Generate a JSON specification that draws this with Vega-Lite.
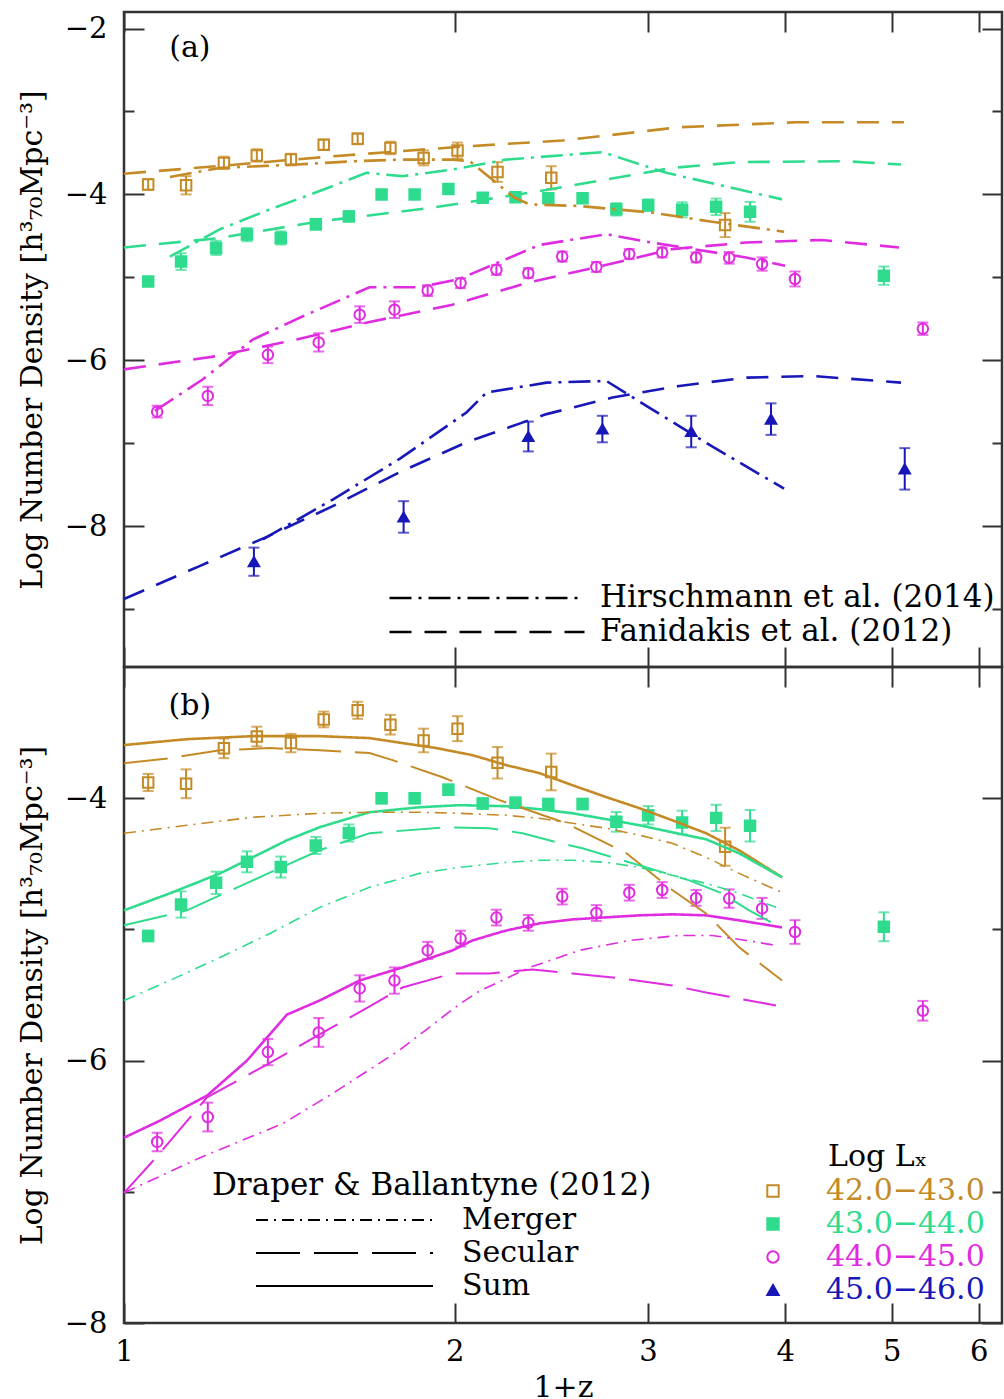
{
  "$schema": "https://vega.github.io/schema/vega-lite/v6.json",
  "autosize": {"type": "pad"},
  "padding": {"left": 16, "top": 9, "right": 0, "bottom": 0},
  "background": "white",
  "spacing": 0,
  "bounds": "flush",
  "config": {
    "font": "DejaVu Serif",
    "view": {"stroke": "#333333", "strokeWidth": 2.5},
    "axis": {"labelFont": "DejaVu Serif", "labelFontSize": 29, "labelColor": "black", "titleFont": "DejaVu Serif", "titleFontSize": 30, "titleFontWeight": "normal", "titleColor": "black", "tickColor": "#333333", "tickWidth": 2, "grid": false, "domain": false, "labelFlush": false},
    "legend": {"labelFont": "DejaVu Serif", "labelFontSize": 30, "titleFont": "DejaVu Serif", "titleFontSize": 30, "titleFontWeight": "normal", "labelColor": "black", "titleColor": "black", "labelLimit": 700, "titleLimit": 700}
  },
  "datasets": {
    "obs": [
      {"bin": "42.0−43.0", "x": 1.052, "y": -3.88, "err": 0.065},
      {"bin": "42.0−43.0", "x": 1.139, "y": -3.89, "err": 0.11},
      {"bin": "42.0−43.0", "x": 1.233, "y": -3.62, "err": 0.075},
      {"bin": "42.0−43.0", "x": 1.321, "y": -3.53, "err": 0.075},
      {"bin": "42.0−43.0", "x": 1.419, "y": -3.58, "err": 0.07},
      {"bin": "42.0−43.0", "x": 1.520, "y": -3.40, "err": 0.06},
      {"bin": "42.0−43.0", "x": 1.632, "y": -3.33, "err": 0.065},
      {"bin": "42.0−43.0", "x": 1.748, "y": -3.44, "err": 0.075},
      {"bin": "42.0−43.0", "x": 1.874, "y": -3.56, "err": 0.09},
      {"bin": "42.0−43.0", "x": 2.012, "y": -3.47, "err": 0.095},
      {"bin": "42.0−43.0", "x": 2.188, "y": -3.73, "err": 0.12},
      {"bin": "42.0−43.0", "x": 2.449, "y": -3.80, "err": 0.14},
      {"bin": "42.0−43.0", "x": 3.526, "y": -4.37, "err": 0.145},
      {"bin": "43.0−44.0", "x": 1.052, "y": -5.05, "err": 0.04},
      {"bin": "43.0−44.0", "x": 1.127, "y": -4.81, "err": 0.10},
      {"bin": "43.0−44.0", "x": 1.213, "y": -4.645, "err": 0.085},
      {"bin": "43.0−44.0", "x": 1.294, "y": -4.485, "err": 0.08},
      {"bin": "43.0−44.0", "x": 1.389, "y": -4.525, "err": 0.08},
      {"bin": "43.0−44.0", "x": 1.495, "y": -4.36, "err": 0.065},
      {"bin": "43.0−44.0", "x": 1.602, "y": -4.265, "err": 0.065},
      {"bin": "43.0−44.0", "x": 1.716, "y": -4.00, "err": 0.04},
      {"bin": "43.0−44.0", "x": 1.839, "y": -4.00, "err": 0.04},
      {"bin": "43.0−44.0", "x": 1.974, "y": -3.935, "err": 0.04},
      {"bin": "43.0−44.0", "x": 2.121, "y": -4.04, "err": 0.04},
      {"bin": "43.0−44.0", "x": 2.272, "y": -4.035, "err": 0.04},
      {"bin": "43.0−44.0", "x": 2.434, "y": -4.045, "err": 0.04},
      {"bin": "43.0−44.0", "x": 2.615, "y": -4.045, "err": 0.04},
      {"bin": "43.0−44.0", "x": 2.807, "y": -4.18, "err": 0.075},
      {"bin": "43.0−44.0", "x": 3.001, "y": -4.13, "err": 0.07},
      {"bin": "43.0−44.0", "x": 3.222, "y": -4.185, "err": 0.09},
      {"bin": "43.0−44.0", "x": 3.460, "y": -4.15, "err": 0.10},
      {"bin": "43.0−44.0", "x": 3.715, "y": -4.21, "err": 0.12},
      {"bin": "43.0−44.0", "x": 4.918, "y": -4.98, "err": 0.11},
      {"bin": "44.0−45.0", "x": 1.072, "y": -6.62, "err": 0.07},
      {"bin": "44.0−45.0", "x": 1.192, "y": -6.43, "err": 0.11},
      {"bin": "44.0−45.0", "x": 1.352, "y": -5.935, "err": 0.10},
      {"bin": "44.0−45.0", "x": 1.504, "y": -5.785, "err": 0.11},
      {"bin": "44.0−45.0", "x": 1.639, "y": -5.45, "err": 0.10},
      {"bin": "44.0−45.0", "x": 1.763, "y": -5.39, "err": 0.10},
      {"bin": "44.0−45.0", "x": 1.890, "y": -5.16, "err": 0.065},
      {"bin": "44.0−45.0", "x": 2.025, "y": -5.07, "err": 0.06},
      {"bin": "44.0−45.0", "x": 2.183, "y": -4.91, "err": 0.06},
      {"bin": "44.0−45.0", "x": 2.334, "y": -4.95, "err": 0.06},
      {"bin": "44.0−45.0", "x": 2.506, "y": -4.75, "err": 0.06},
      {"bin": "44.0−45.0", "x": 2.692, "y": -4.875, "err": 0.06},
      {"bin": "44.0−45.0", "x": 2.884, "y": -4.72, "err": 0.06},
      {"bin": "44.0−45.0", "x": 3.090, "y": -4.70, "err": 0.06},
      {"bin": "44.0−45.0", "x": 3.318, "y": -4.76, "err": 0.06},
      {"bin": "44.0−45.0", "x": 3.556, "y": -4.765, "err": 0.07},
      {"bin": "44.0−45.0", "x": 3.810, "y": -4.84, "err": 0.08},
      {"bin": "44.0−45.0", "x": 4.082, "y": -5.02, "err": 0.09},
      {"bin": "44.0−45.0", "x": 5.337, "y": -5.62, "err": 0.075},
      {"bin": "45.0−46.0", "x": 1.313, "y": -8.43, "err": 0.17},
      {"bin": "45.0−46.0", "x": 1.797, "y": -7.89, "err": 0.19},
      {"bin": "45.0−46.0", "x": 2.334, "y": -6.92, "err": 0.18},
      {"bin": "45.0−46.0", "x": 2.726, "y": -6.83, "err": 0.16},
      {"bin": "45.0−46.0", "x": 3.284, "y": -6.86, "err": 0.19},
      {"bin": "45.0−46.0", "x": 3.882, "y": -6.71, "err": 0.19},
      {"bin": "45.0−46.0", "x": 5.138, "y": -7.31, "err": 0.25}
    ],
    "modelA": [
      {"model": "Fanidakis et al. (2012)", "bin": "42.0−43.0", "x": 1.0, "y": -3.75},
      {"model": "Fanidakis et al. (2012)", "bin": "42.0−43.0", "x": 1.215, "y": -3.66},
      {"model": "Fanidakis et al. (2012)", "bin": "42.0−43.0", "x": 1.549, "y": -3.54},
      {"model": "Fanidakis et al. (2012)", "bin": "42.0−43.0", "x": 2.05, "y": -3.42},
      {"model": "Fanidakis et al. (2012)", "bin": "42.0−43.0", "x": 2.507, "y": -3.35},
      {"model": "Fanidakis et al. (2012)", "bin": "42.0−43.0", "x": 3.203, "y": -3.19},
      {"model": "Fanidakis et al. (2012)", "bin": "42.0−43.0", "x": 4.091, "y": -3.13},
      {"model": "Fanidakis et al. (2012)", "bin": "42.0−43.0", "x": 5.129, "y": -3.13},
      {"model": "Hirschmann et al. (2014)", "bin": "42.0−43.0", "x": 1.101, "y": -3.79},
      {"model": "Hirschmann et al. (2014)", "bin": "42.0−43.0", "x": 1.223, "y": -3.68},
      {"model": "Hirschmann et al. (2014)", "bin": "42.0−43.0", "x": 1.436, "y": -3.64},
      {"model": "Hirschmann et al. (2014)", "bin": "42.0−43.0", "x": 1.615, "y": -3.60},
      {"model": "Hirschmann et al. (2014)", "bin": "42.0−43.0", "x": 1.793, "y": -3.58},
      {"model": "Hirschmann et al. (2014)", "bin": "42.0−43.0", "x": 1.991, "y": -3.58},
      {"model": "Hirschmann et al. (2014)", "bin": "42.0−43.0", "x": 2.065, "y": -3.60},
      {"model": "Hirschmann et al. (2014)", "bin": "42.0−43.0", "x": 2.267, "y": -4.04},
      {"model": "Hirschmann et al. (2014)", "bin": "42.0−43.0", "x": 2.34, "y": -4.12},
      {"model": "Hirschmann et al. (2014)", "bin": "42.0−43.0", "x": 2.598, "y": -4.14},
      {"model": "Hirschmann et al. (2014)", "bin": "42.0−43.0", "x": 3.027, "y": -4.22},
      {"model": "Hirschmann et al. (2014)", "bin": "42.0−43.0", "x": 3.431, "y": -4.33},
      {"model": "Hirschmann et al. (2014)", "bin": "42.0−43.0", "x": 3.99, "y": -4.45},
      {"model": "Fanidakis et al. (2012)", "bin": "43.0−44.0", "x": 1.0, "y": -4.64},
      {"model": "Fanidakis et al. (2012)", "bin": "43.0−44.0", "x": 1.215, "y": -4.53},
      {"model": "Fanidakis et al. (2012)", "bin": "43.0−44.0", "x": 1.498, "y": -4.33},
      {"model": "Fanidakis et al. (2012)", "bin": "43.0−44.0", "x": 1.909, "y": -4.16},
      {"model": "Fanidakis et al. (2012)", "bin": "43.0−44.0", "x": 2.389, "y": -3.96},
      {"model": "Fanidakis et al. (2012)", "bin": "43.0−44.0", "x": 2.749, "y": -3.82},
      {"model": "Fanidakis et al. (2012)", "bin": "43.0−44.0", "x": 3.156, "y": -3.68},
      {"model": "Fanidakis et al. (2012)", "bin": "43.0−44.0", "x": 3.631, "y": -3.61},
      {"model": "Fanidakis et al. (2012)", "bin": "43.0−44.0", "x": 4.543, "y": -3.60},
      {"model": "Fanidakis et al. (2012)", "bin": "43.0−44.0", "x": 5.098, "y": -3.64},
      {"model": "Hirschmann et al. (2014)", "bin": "43.0−44.0", "x": 1.101, "y": -4.75},
      {"model": "Hirschmann et al. (2014)", "bin": "43.0−44.0", "x": 1.223, "y": -4.42},
      {"model": "Hirschmann et al. (2014)", "bin": "43.0−44.0", "x": 1.358, "y": -4.18},
      {"model": "Hirschmann et al. (2014)", "bin": "43.0−44.0", "x": 1.507, "y": -3.96},
      {"model": "Hirschmann et al. (2014)", "bin": "43.0−44.0", "x": 1.663, "y": -3.74},
      {"model": "Hirschmann et al. (2014)", "bin": "43.0−44.0", "x": 1.793, "y": -3.78},
      {"model": "Hirschmann et al. (2014)", "bin": "43.0−44.0", "x": 1.991, "y": -3.70},
      {"model": "Hirschmann et al. (2014)", "bin": "43.0−44.0", "x": 2.229, "y": -3.58},
      {"model": "Hirschmann et al. (2014)", "bin": "43.0−44.0", "x": 2.726, "y": -3.49},
      {"model": "Hirschmann et al. (2014)", "bin": "43.0−44.0", "x": 3.117, "y": -3.74},
      {"model": "Hirschmann et al. (2014)", "bin": "43.0−44.0", "x": 3.973, "y": -4.06},
      {"model": "Fanidakis et al. (2012)", "bin": "44.0−45.0", "x": 1.0, "y": -6.11},
      {"model": "Fanidakis et al. (2012)", "bin": "44.0−45.0", "x": 1.215, "y": -5.95},
      {"model": "Fanidakis et al. (2012)", "bin": "44.0−45.0", "x": 1.436, "y": -5.75},
      {"model": "Fanidakis et al. (2012)", "bin": "44.0−45.0", "x": 1.673, "y": -5.54},
      {"model": "Fanidakis et al. (2012)", "bin": "44.0−45.0", "x": 1.991, "y": -5.33},
      {"model": "Fanidakis et al. (2012)", "bin": "44.0−45.0", "x": 2.34, "y": -5.06},
      {"model": "Fanidakis et al. (2012)", "bin": "44.0−45.0", "x": 2.709, "y": -4.87},
      {"model": "Fanidakis et al. (2012)", "bin": "44.0−45.0", "x": 3.156, "y": -4.66},
      {"model": "Fanidakis et al. (2012)", "bin": "44.0−45.0", "x": 3.684, "y": -4.58},
      {"model": "Fanidakis et al. (2012)", "bin": "44.0−45.0", "x": 4.32, "y": -4.55},
      {"model": "Fanidakis et al. (2012)", "bin": "44.0−45.0", "x": 5.077, "y": -4.64},
      {"model": "Hirschmann et al. (2014)", "bin": "44.0−45.0", "x": 1.067, "y": -6.61},
      {"model": "Hirschmann et al. (2014)", "bin": "44.0−45.0", "x": 1.18, "y": -6.23},
      {"model": "Hirschmann et al. (2014)", "bin": "44.0−45.0", "x": 1.31, "y": -5.75},
      {"model": "Hirschmann et al. (2014)", "bin": "44.0−45.0", "x": 1.455, "y": -5.47},
      {"model": "Hirschmann et al. (2014)", "bin": "44.0−45.0", "x": 1.673, "y": -5.12},
      {"model": "Hirschmann et al. (2014)", "bin": "44.0−45.0", "x": 1.858, "y": -5.12},
      {"model": "Hirschmann et al. (2014)", "bin": "44.0−45.0", "x": 2.02, "y": -5.02},
      {"model": "Hirschmann et al. (2014)", "bin": "44.0−45.0", "x": 2.389, "y": -4.61},
      {"model": "Hirschmann et al. (2014)", "bin": "44.0−45.0", "x": 2.749, "y": -4.48},
      {"model": "Hirschmann et al. (2014)", "bin": "44.0−45.0", "x": 2.989, "y": -4.57},
      {"model": "Hirschmann et al. (2014)", "bin": "44.0−45.0", "x": 3.684, "y": -4.76},
      {"model": "Hirschmann et al. (2014)", "bin": "44.0−45.0", "x": 3.998, "y": -4.86},
      {"model": "Fanidakis et al. (2012)", "bin": "45.0−46.0", "x": 1.0, "y": -8.88},
      {"model": "Fanidakis et al. (2012)", "bin": "45.0−46.0", "x": 1.173, "y": -8.48},
      {"model": "Fanidakis et al. (2012)", "bin": "45.0−46.0", "x": 1.349, "y": -8.13},
      {"model": "Fanidakis et al. (2012)", "bin": "45.0−46.0", "x": 1.549, "y": -7.76},
      {"model": "Fanidakis et al. (2012)", "bin": "45.0−46.0", "x": 1.782, "y": -7.35},
      {"model": "Fanidakis et al. (2012)", "bin": "45.0−46.0", "x": 2.05, "y": -6.99},
      {"model": "Fanidakis et al. (2012)", "bin": "45.0−46.0", "x": 2.425, "y": -6.65},
      {"model": "Fanidakis et al. (2012)", "bin": "45.0−46.0", "x": 2.784, "y": -6.45},
      {"model": "Fanidakis et al. (2012)", "bin": "45.0−46.0", "x": 3.203, "y": -6.31},
      {"model": "Fanidakis et al. (2012)", "bin": "45.0−46.0", "x": 3.684, "y": -6.21},
      {"model": "Fanidakis et al. (2012)", "bin": "45.0−46.0", "x": 4.231, "y": -6.19},
      {"model": "Fanidakis et al. (2012)", "bin": "45.0−46.0", "x": 5.098, "y": -6.27},
      {"model": "Hirschmann et al. (2014)", "bin": "45.0−46.0", "x": 1.338, "y": -8.16},
      {"model": "Hirschmann et al. (2014)", "bin": "45.0−46.0", "x": 1.549, "y": -7.68},
      {"model": "Hirschmann et al. (2014)", "bin": "45.0−46.0", "x": 1.782, "y": -7.19},
      {"model": "Hirschmann et al. (2014)", "bin": "45.0−46.0", "x": 2.05, "y": -6.63},
      {"model": "Hirschmann et al. (2014)", "bin": "45.0−46.0", "x": 2.138, "y": -6.39},
      {"model": "Hirschmann et al. (2014)", "bin": "45.0−46.0", "x": 2.425, "y": -6.27},
      {"model": "Hirschmann et al. (2014)", "bin": "45.0−46.0", "x": 2.749, "y": -6.25},
      {"model": "Hirschmann et al. (2014)", "bin": "45.0−46.0", "x": 2.989, "y": -6.55},
      {"model": "Hirschmann et al. (2014)", "bin": "45.0−46.0", "x": 3.431, "y": -7.04},
      {"model": "Hirschmann et al. (2014)", "bin": "45.0−46.0", "x": 3.99, "y": -7.55}
    ],
    "modelB": [
      {"model": "Sum", "bin": "42.0−43.0", "x": 1.0, "y": -3.595},
      {"model": "Sum", "bin": "42.0−43.0", "x": 1.141, "y": -3.55},
      {"model": "Sum", "bin": "42.0−43.0", "x": 1.31, "y": -3.527},
      {"model": "Sum", "bin": "42.0−43.0", "x": 1.507, "y": -3.527},
      {"model": "Sum", "bin": "42.0−43.0", "x": 1.673, "y": -3.542},
      {"model": "Sum", "bin": "42.0−43.0", "x": 1.793, "y": -3.58},
      {"model": "Sum", "bin": "42.0−43.0", "x": 1.925, "y": -3.618},
      {"model": "Sum", "bin": "42.0−43.0", "x": 2.076, "y": -3.672},
      {"model": "Sum", "bin": "42.0−43.0", "x": 2.229, "y": -3.748},
      {"model": "Sum", "bin": "42.0−43.0", "x": 2.389, "y": -3.809},
      {"model": "Sum", "bin": "42.0−43.0", "x": 2.56, "y": -3.901},
      {"model": "Sum", "bin": "42.0−43.0", "x": 2.749, "y": -3.992},
      {"model": "Sum", "bin": "42.0−43.0", "x": 2.946, "y": -4.076},
      {"model": "Sum", "bin": "42.0−43.0", "x": 3.156, "y": -4.168},
      {"model": "Sum", "bin": "42.0−43.0", "x": 3.388, "y": -4.267},
      {"model": "Sum", "bin": "42.0−43.0", "x": 3.631, "y": -4.397},
      {"model": "Sum", "bin": "42.0−43.0", "x": 3.973, "y": -4.603},
      {"model": "Secular", "bin": "42.0−43.0", "x": 1.0, "y": -3.733},
      {"model": "Secular", "bin": "42.0−43.0", "x": 1.101, "y": -3.695},
      {"model": "Secular", "bin": "42.0−43.0", "x": 1.223, "y": -3.634},
      {"model": "Secular", "bin": "42.0−43.0", "x": 1.358, "y": -3.618},
      {"model": "Secular", "bin": "42.0−43.0", "x": 1.507, "y": -3.634},
      {"model": "Secular", "bin": "42.0−43.0", "x": 1.673, "y": -3.656},
      {"model": "Secular", "bin": "42.0−43.0", "x": 1.756, "y": -3.71},
      {"model": "Secular", "bin": "42.0−43.0", "x": 1.95, "y": -3.84},
      {"model": "Secular", "bin": "42.0−43.0", "x": 2.197, "y": -4.015},
      {"model": "Secular", "bin": "42.0−43.0", "x": 2.527, "y": -4.191},
      {"model": "Secular", "bin": "42.0−43.0", "x": 2.867, "y": -4.42},
      {"model": "Secular", "bin": "42.0−43.0", "x": 3.156, "y": -4.70},
      {"model": "Secular", "bin": "42.0−43.0", "x": 3.388, "y": -4.878},
      {"model": "Secular", "bin": "42.0−43.0", "x": 3.631, "y": -5.137},
      {"model": "Secular", "bin": "42.0−43.0", "x": 3.973, "y": -5.389},
      {"model": "Merger", "bin": "42.0−43.0", "x": 1.0, "y": -4.267},
      {"model": "Merger", "bin": "42.0−43.0", "x": 1.141, "y": -4.206},
      {"model": "Merger", "bin": "42.0−43.0", "x": 1.31, "y": -4.145},
      {"model": "Merger", "bin": "42.0−43.0", "x": 1.507, "y": -4.115},
      {"model": "Merger", "bin": "42.0−43.0", "x": 1.673, "y": -4.107},
      {"model": "Merger", "bin": "42.0−43.0", "x": 1.858, "y": -4.107},
      {"model": "Merger", "bin": "42.0−43.0", "x": 2.02, "y": -4.115},
      {"model": "Merger", "bin": "42.0−43.0", "x": 2.229, "y": -4.13},
      {"model": "Merger", "bin": "42.0−43.0", "x": 2.389, "y": -4.153},
      {"model": "Merger", "bin": "42.0−43.0", "x": 2.56, "y": -4.191},
      {"model": "Merger", "bin": "42.0−43.0", "x": 2.749, "y": -4.229},
      {"model": "Merger", "bin": "42.0−43.0", "x": 2.946, "y": -4.282},
      {"model": "Merger", "bin": "42.0−43.0", "x": 3.156, "y": -4.344},
      {"model": "Merger", "bin": "42.0−43.0", "x": 3.388, "y": -4.45},
      {"model": "Merger", "bin": "42.0−43.0", "x": 3.631, "y": -4.573},
      {"model": "Merger", "bin": "42.0−43.0", "x": 3.973, "y": -4.718},
      {"model": "Sum", "bin": "43.0−44.0", "x": 1.0, "y": -4.855},
      {"model": "Sum", "bin": "43.0−44.0", "x": 1.101, "y": -4.725},
      {"model": "Sum", "bin": "43.0−44.0", "x": 1.223, "y": -4.573},
      {"model": "Sum", "bin": "43.0−44.0", "x": 1.31, "y": -4.45},
      {"model": "Sum", "bin": "43.0−44.0", "x": 1.407, "y": -4.321},
      {"model": "Sum", "bin": "43.0−44.0", "x": 1.507, "y": -4.221},
      {"model": "Sum", "bin": "43.0−44.0", "x": 1.673, "y": -4.107},
      {"model": "Sum", "bin": "43.0−44.0", "x": 1.858, "y": -4.069},
      {"model": "Sum", "bin": "43.0−44.0", "x": 2.02, "y": -4.053},
      {"model": "Sum", "bin": "43.0−44.0", "x": 2.229, "y": -4.061},
      {"model": "Sum", "bin": "43.0−44.0", "x": 2.389, "y": -4.084},
      {"model": "Sum", "bin": "43.0−44.0", "x": 2.56, "y": -4.115},
      {"model": "Sum", "bin": "43.0−44.0", "x": 2.749, "y": -4.16},
      {"model": "Sum", "bin": "43.0−44.0", "x": 2.946, "y": -4.206},
      {"model": "Sum", "bin": "43.0−44.0", "x": 3.156, "y": -4.26},
      {"model": "Sum", "bin": "43.0−44.0", "x": 3.388, "y": -4.313},
      {"model": "Sum", "bin": "43.0−44.0", "x": 3.631, "y": -4.42},
      {"model": "Sum", "bin": "43.0−44.0", "x": 3.973, "y": -4.603},
      {"model": "Secular", "bin": "43.0−44.0", "x": 1.0, "y": -4.969},
      {"model": "Secular", "bin": "43.0−44.0", "x": 1.141, "y": -4.855},
      {"model": "Secular", "bin": "43.0−44.0", "x": 1.31, "y": -4.626},
      {"model": "Secular", "bin": "43.0−44.0", "x": 1.507, "y": -4.397},
      {"model": "Secular", "bin": "43.0−44.0", "x": 1.673, "y": -4.267},
      {"model": "Secular", "bin": "43.0−44.0", "x": 1.966, "y": -4.221},
      {"model": "Secular", "bin": "43.0−44.0", "x": 2.151, "y": -4.229},
      {"model": "Secular", "bin": "43.0−44.0", "x": 2.306, "y": -4.267},
      {"model": "Secular", "bin": "43.0−44.0", "x": 2.476, "y": -4.336},
      {"model": "Secular", "bin": "43.0−44.0", "x": 2.614, "y": -4.382},
      {"model": "Secular", "bin": "43.0−44.0", "x": 2.843, "y": -4.473},
      {"model": "Secular", "bin": "43.0−44.0", "x": 3.052, "y": -4.55},
      {"model": "Secular", "bin": "43.0−44.0", "x": 3.271, "y": -4.626},
      {"model": "Secular", "bin": "43.0−44.0", "x": 3.504, "y": -4.725},
      {"model": "Secular", "bin": "43.0−44.0", "x": 3.708, "y": -4.855},
      {"model": "Secular", "bin": "43.0−44.0", "x": 3.973, "y": -4.992},
      {"model": "Merger", "bin": "43.0−44.0", "x": 1.0, "y": -5.542},
      {"model": "Merger", "bin": "43.0−44.0", "x": 1.101, "y": -5.389},
      {"model": "Merger", "bin": "43.0−44.0", "x": 1.223, "y": -5.214},
      {"model": "Merger", "bin": "43.0−44.0", "x": 1.358, "y": -5.031},
      {"model": "Merger", "bin": "43.0−44.0", "x": 1.507, "y": -4.832},
      {"model": "Merger", "bin": "43.0−44.0", "x": 1.673, "y": -4.679},
      {"model": "Merger", "bin": "43.0−44.0", "x": 1.858, "y": -4.573},
      {"model": "Merger", "bin": "43.0−44.0", "x": 2.02, "y": -4.527},
      {"model": "Merger", "bin": "43.0−44.0", "x": 2.229, "y": -4.489},
      {"model": "Merger", "bin": "43.0−44.0", "x": 2.389, "y": -4.473},
      {"model": "Merger", "bin": "43.0−44.0", "x": 2.56, "y": -4.473},
      {"model": "Merger", "bin": "43.0−44.0", "x": 2.749, "y": -4.489},
      {"model": "Merger", "bin": "43.0−44.0", "x": 2.946, "y": -4.527},
      {"model": "Merger", "bin": "43.0−44.0", "x": 3.156, "y": -4.588},
      {"model": "Merger", "bin": "43.0−44.0", "x": 3.388, "y": -4.649},
      {"model": "Merger", "bin": "43.0−44.0", "x": 3.631, "y": -4.725},
      {"model": "Merger", "bin": "43.0−44.0", "x": 3.923, "y": -4.832},
      {"model": "Sum", "bin": "44.0−45.0", "x": 1.0, "y": -6.588},
      {"model": "Sum", "bin": "44.0−45.0", "x": 1.078, "y": -6.458},
      {"model": "Sum", "bin": "44.0−45.0", "x": 1.19, "y": -6.267},
      {"model": "Sum", "bin": "44.0−45.0", "x": 1.294, "y": -6.0},
      {"model": "Sum", "bin": "44.0−45.0", "x": 1.407, "y": -5.65},
      {"model": "Sum", "bin": "44.0−45.0", "x": 1.507, "y": -5.542},
      {"model": "Sum", "bin": "44.0−45.0", "x": 1.639, "y": -5.389},
      {"model": "Sum", "bin": "44.0−45.0", "x": 1.793, "y": -5.29},
      {"model": "Sum", "bin": "44.0−45.0", "x": 1.991, "y": -5.16},
      {"model": "Sum", "bin": "44.0−45.0", "x": 2.076, "y": -5.084},
      {"model": "Sum", "bin": "44.0−45.0", "x": 2.229, "y": -5.008},
      {"model": "Sum", "bin": "44.0−45.0", "x": 2.389, "y": -4.954},
      {"model": "Sum", "bin": "44.0−45.0", "x": 2.56, "y": -4.924},
      {"model": "Sum", "bin": "44.0−45.0", "x": 2.749, "y": -4.908},
      {"model": "Sum", "bin": "44.0−45.0", "x": 2.946, "y": -4.893},
      {"model": "Sum", "bin": "44.0−45.0", "x": 3.156, "y": -4.885},
      {"model": "Sum", "bin": "44.0−45.0", "x": 3.388, "y": -4.893},
      {"model": "Sum", "bin": "44.0−45.0", "x": 3.631, "y": -4.931},
      {"model": "Sum", "bin": "44.0−45.0", "x": 3.973, "y": -4.985},
      {"model": "Secular", "bin": "44.0−45.0", "x": 1.0, "y": -7.008},
      {"model": "Secular", "bin": "44.0−45.0", "x": 1.072, "y": -6.73},
      {"model": "Secular", "bin": "44.0−45.0", "x": 1.19, "y": -6.28},
      {"model": "Secular", "bin": "44.0−45.0", "x": 1.349, "y": -6.03},
      {"model": "Secular", "bin": "44.0−45.0", "x": 1.507, "y": -5.80},
      {"model": "Secular", "bin": "44.0−45.0", "x": 1.663, "y": -5.60},
      {"model": "Secular", "bin": "44.0−45.0", "x": 1.793, "y": -5.443},
      {"model": "Secular", "bin": "44.0−45.0", "x": 1.991, "y": -5.336},
      {"model": "Secular", "bin": "44.0−45.0", "x": 2.151, "y": -5.336},
      {"model": "Secular", "bin": "44.0−45.0", "x": 2.354, "y": -5.305},
      {"model": "Secular", "bin": "44.0−45.0", "x": 2.56, "y": -5.336},
      {"model": "Secular", "bin": "44.0−45.0", "x": 2.843, "y": -5.374},
      {"model": "Secular", "bin": "44.0−45.0", "x": 3.156, "y": -5.427},
      {"model": "Secular", "bin": "44.0−45.0", "x": 3.388, "y": -5.481},
      {"model": "Secular", "bin": "44.0−45.0", "x": 3.923, "y": -5.58},
      {"model": "Merger", "bin": "44.0−45.0", "x": 1.0, "y": -7.008},
      {"model": "Merger", "bin": "44.0−45.0", "x": 1.173, "y": -6.74},
      {"model": "Merger", "bin": "44.0−45.0", "x": 1.395, "y": -6.48},
      {"model": "Merger", "bin": "44.0−45.0", "x": 1.549, "y": -6.25},
      {"model": "Merger", "bin": "44.0−45.0", "x": 1.782, "y": -5.92},
      {"model": "Merger", "bin": "44.0−45.0", "x": 2.02, "y": -5.57},
      {"model": "Merger", "bin": "44.0−45.0", "x": 2.107, "y": -5.47},
      {"model": "Merger", "bin": "44.0−45.0", "x": 2.34, "y": -5.29},
      {"model": "Merger", "bin": "44.0−45.0", "x": 2.598, "y": -5.16},
      {"model": "Merger", "bin": "44.0−45.0", "x": 2.884, "y": -5.084},
      {"model": "Merger", "bin": "44.0−45.0", "x": 3.203, "y": -5.046},
      {"model": "Merger", "bin": "44.0−45.0", "x": 3.431, "y": -5.046},
      {"model": "Merger", "bin": "44.0−45.0", "x": 3.684, "y": -5.084},
      {"model": "Merger", "bin": "44.0−45.0", "x": 3.923, "y": -5.122}
    ]
  },
  "resolve": {
    "scale": {"y": "independent", "strokeDash": "independent"},
    "legend": {"shape": "independent", "stroke": "independent", "fill": "independent"}
  },
  "vconcat": [
    {
      "width": 878,
      "height": 655,
      "resolve": {"axis": {"x": "independent", "y": "independent"}},
      "layer": [
        {
          "data": {"name": "obs"},
          "mark": {"type": "errorbar", "ticks": {"size": 11}, "thickness": 2},
          "encoding": {
            "x": {"field": "x", "type": "quantitative", "scale": {"type": "log", "domain": [1, 6.3], "nice": false}, "axis": {"orient": "bottom", "values": [1, 2, 3, 4, 5, 6], "labels": false, "tickSize": -20, "title": null}},
            "y": {"field": "y", "type": "quantitative", "scale": {"domain": [-9.7, -1.8], "nice": false, "zero": false}, "axis": {"orient": "left", "values": [-2, -4, -6, -8], "tickSize": -20, "labelPadding": 37, "title": "Log Number Density [h³₇₀Mpc⁻³]", "titlePadding": 17}},
            "yError": {"field": "err"},
            "color": {"field": "bin", "type": "nominal", "scale": {"domain": ["42.0−43.0", "43.0−44.0", "44.0−45.0", "45.0−46.0"], "range": ["#c48a26", "#2fdc8e", "#e02ce0", "#1818b8"]}, "legend": null}
          }
        },
        {
          "data": {"name": "obs"},
          "mark": {"type": "point", "size": 110, "strokeWidth": 2, "opacity": 1},
          "encoding": {
            "x": {"field": "x", "type": "quantitative", "scale": {"type": "log", "domain": [1, 6.3], "nice": false}, "axis": {"orient": "top", "values": [1, 2, 3, 4, 5, 6], "labels": false, "tickSize": -20, "title": null}},
            "y": {"field": "y", "type": "quantitative", "scale": {"domain": [-9.7, -1.8], "nice": false, "zero": false}, "axis": {"orient": "right", "values": [-2, -4, -6, -8], "labels": false, "tickSize": -20, "title": null}},
            "shape": {"field": "bin", "type": "nominal", "scale": {"domain": ["42.0−43.0", "43.0−44.0", "44.0−45.0", "45.0−46.0"], "range": ["square", "square", "circle", "triangle-up"]}, "legend": null},
            "stroke": {"field": "bin", "type": "nominal", "scale": {"domain": ["42.0−43.0", "43.0−44.0", "44.0−45.0", "45.0−46.0"], "range": ["#c48a26", "#2fdc8e", "#e02ce0", "#1818b8"]}, "legend": null},
            "fill": {"field": "bin", "type": "nominal", "scale": {"domain": ["42.0−43.0", "43.0−44.0", "44.0−45.0", "45.0−46.0"], "range": ["transparent", "#2fdc8e", "transparent", "#1818b8"]}, "legend": null}
          }
        },
        {
          "data": {"name": "modelA"},
          "transform": [{"filter": "datum.model === 'Fanidakis et al. (2012)'"}],
          "mark": {"type": "line", "strokeWidth": 2.6},
          "encoding": {
            "x": {"field": "x", "type": "quantitative", "scale": {"type": "log", "domain": [1, 6.3], "nice": false}, "axis": null},
            "y": {"field": "y", "type": "quantitative", "scale": {"domain": [-9.7, -1.8], "nice": false, "zero": false}, "axis": {"orient": "left", "values": [-3, -5, -7, -9], "labels": false, "tickSize": -10, "title": null}},
            "color": {"field": "bin", "type": "nominal", "scale": {"domain": ["42.0−43.0", "43.0−44.0", "44.0−45.0", "45.0−46.0"], "range": ["#c48a26", "#2fdc8e", "#e02ce0", "#1818b8"]}, "legend": null},
            "strokeDash": {"field": "model", "type": "nominal", "scale": {"domain": ["Hirschmann et al. (2014)", "Fanidakis et al. (2012)"], "range": [[22, 7, 3, 7], [22, 13]]}, "legend": {"orient": "none", "legendX": 264, "legendY": 571, "title": null, "symbolType": "stroke", "symbolSize": 38025, "symbolStrokeColor": "black", "symbolStrokeWidth": 2.5, "clipHeight": 30, "rowPadding": 3, "labelOffset": 14, "labelFontSize": 31}}
          }
        },
        {
          "data": {"name": "modelA"},
          "transform": [{"filter": "datum.model === 'Hirschmann et al. (2014)'"}],
          "mark": {"type": "line", "strokeWidth": 2.6},
          "encoding": {
            "x": {"field": "x", "type": "quantitative", "scale": {"type": "log", "domain": [1, 6.3], "nice": false}, "axis": null},
            "y": {"field": "y", "type": "quantitative", "scale": {"domain": [-9.7, -1.8], "nice": false, "zero": false}, "axis": {"orient": "right", "values": [-3, -5, -7, -9], "labels": false, "tickSize": -10, "title": null}},
            "color": {"field": "bin", "type": "nominal", "scale": {"domain": ["42.0−43.0", "43.0−44.0", "44.0−45.0", "45.0−46.0"], "range": ["#c48a26", "#2fdc8e", "#e02ce0", "#1818b8"]}, "legend": null},
            "strokeDash": {"field": "model", "type": "nominal", "scale": {"domain": ["Hirschmann et al. (2014)", "Fanidakis et al. (2012)"], "range": [[22, 7, 3, 7], [22, 13]]}}
          }
        },
        {
          "data": {"values": [{}]},
          "mark": {"type": "text", "text": "(a)", "fontSize": 30, "font": "DejaVu Serif", "color": "black"},
          "encoding": {
            "x": {"datum": 1.148, "type": "quantitative", "scale": {"type": "log", "domain": [1, 6.3], "nice": false}, "axis": null},
            "y": {"datum": -2.23, "type": "quantitative", "scale": {"domain": [-9.7, -1.8], "nice": false, "zero": false}, "axis": null}
          }
        }
      ]
    },
    {
      "width": 878,
      "height": 656,
      "resolve": {"axis": {"x": "independent", "y": "independent"}},
      "layer": [
        {
          "data": {"name": "obs"},
          "transform": [{"filter": "datum.bin !== '45.0−46.0'"}],
          "mark": {"type": "errorbar", "ticks": {"size": 11}, "thickness": 2},
          "encoding": {
            "x": {"field": "x", "type": "quantitative", "scale": {"type": "log", "domain": [1, 6.3], "nice": false}, "axis": {"orient": "bottom", "values": [1, 2, 3, 4, 5, 6], "tickSize": -20, "labelPadding": 34, "title": "1+z", "titlePadding": 6}},
            "y": {"field": "y", "type": "quantitative", "scale": {"domain": [-8, -3], "nice": false, "zero": false}, "axis": {"orient": "left", "values": [-4, -6, -8], "tickSize": -20, "labelPadding": 37, "title": "Log Number Density [h³₇₀Mpc⁻³]", "titlePadding": 17}},
            "yError": {"field": "err"},
            "color": {"field": "bin", "type": "nominal", "scale": {"domain": ["42.0−43.0", "43.0−44.0", "44.0−45.0", "45.0−46.0"], "range": ["#c48a26", "#2fdc8e", "#e02ce0", "#1818b8"]}, "legend": null}
          }
        },
        {
          "data": {"name": "obs"},
          "transform": [{"filter": "datum.bin !== '45.0−46.0'"}],
          "mark": {"type": "point", "size": 110, "strokeWidth": 2, "opacity": 1},
          "encoding": {
            "x": {"field": "x", "type": "quantitative", "scale": {"type": "log", "domain": [1, 6.3], "nice": false}, "axis": {"orient": "top", "values": [1, 2, 3, 4, 5, 6], "labels": false, "tickSize": -20, "title": null}},
            "y": {"field": "y", "type": "quantitative", "scale": {"domain": [-8, -3], "nice": false, "zero": false}, "axis": {"orient": "right", "values": [-4, -6, -8], "labels": false, "tickSize": -20, "title": null}},
            "shape": {"field": "bin", "type": "nominal", "title": "Log Lₓ", "scale": {"domain": ["42.0−43.0", "43.0−44.0", "44.0−45.0", "45.0−46.0"], "range": ["square", "square", "circle", "triangle-up"]}, "legend": {"orient": "none", "legendX": 704, "legendY": 475, "symbolOffset": -70, "labelOffset": 38, "symbolSize": 130, "symbolStrokeWidth": 2, "rowPadding": 3, "titlePadding": 4, "labelColor": {"expr": "datum.value === '42.0−43.0' ? '#c48a26' : datum.value === '43.0−44.0' ? '#2fdc8e' : datum.value === '44.0−45.0' ? '#e02ce0' : '#1818b8'"}}},
            "stroke": {"field": "bin", "type": "nominal", "title": "Log Lₓ", "scale": {"domain": ["42.0−43.0", "43.0−44.0", "44.0−45.0", "45.0−46.0"], "range": ["#c48a26", "#2fdc8e", "#e02ce0", "#1818b8"]}},
            "fill": {"field": "bin", "type": "nominal", "title": "Log Lₓ", "scale": {"domain": ["42.0−43.0", "43.0−44.0", "44.0−45.0", "45.0−46.0"], "range": ["transparent", "#2fdc8e", "transparent", "#1818b8"]}}
          }
        },
        {
          "data": {"name": "modelB"},
          "transform": [{"filter": "datum.model === 'Sum'"}],
          "mark": {"type": "line", "strokeWidth": 2.6},
          "encoding": {
            "x": {"field": "x", "type": "quantitative", "scale": {"type": "log", "domain": [1, 6.3], "nice": false}, "axis": null},
            "y": {"field": "y", "type": "quantitative", "scale": {"domain": [-8, -3], "nice": false, "zero": false}, "axis": {"orient": "left", "values": [-5, -7], "labels": false, "tickSize": -10, "title": null}},
            "color": {"field": "bin", "type": "nominal", "scale": {"domain": ["42.0−43.0", "43.0−44.0", "44.0−45.0", "45.0−46.0"], "range": ["#c48a26", "#2fdc8e", "#e02ce0", "#1818b8"]}, "legend": null},
            "strokeDash": {"field": "model", "type": "nominal", "scale": {"domain": ["Merger", "Secular", "Sum"], "range": [[12, 6, 2, 6], [44, 14], [1, 0]]}, "legend": {"orient": "none", "legendX": 88, "legendY": 504, "title": "Draper & Ballantyne (2012)", "titleFontSize": 31, "symbolType": "stroke", "symbolSize": 31329, "symbolStrokeColor": "black", "symbolStrokeWidth": 2, "symbolOffset": 43, "clipHeight": 28, "rowPadding": 3, "labelOffset": 28, "titlePadding": 4}}
          }
        },
        {
          "data": {"name": "modelB"},
          "transform": [{"filter": "datum.model === 'Secular'"}],
          "mark": {"type": "line", "strokeWidth": 2},
          "encoding": {
            "x": {"field": "x", "type": "quantitative", "scale": {"type": "log", "domain": [1, 6.3], "nice": false}, "axis": null},
            "y": {"field": "y", "type": "quantitative", "scale": {"domain": [-8, -3], "nice": false, "zero": false}, "axis": {"orient": "right", "values": [-5, -7], "labels": false, "tickSize": -10, "title": null}},
            "color": {"field": "bin", "type": "nominal", "scale": {"domain": ["42.0−43.0", "43.0−44.0", "44.0−45.0", "45.0−46.0"], "range": ["#c48a26", "#2fdc8e", "#e02ce0", "#1818b8"]}, "legend": null},
            "strokeDash": {"field": "model", "type": "nominal", "scale": {"domain": ["Merger", "Secular", "Sum"], "range": [[12, 6, 2, 6], [44, 14], [1, 0]]}}
          }
        },
        {
          "data": {"name": "modelB"},
          "transform": [{"filter": "datum.model === 'Merger'"}],
          "mark": {"type": "line", "strokeWidth": 1.6},
          "encoding": {
            "x": {"field": "x", "type": "quantitative", "scale": {"type": "log", "domain": [1, 6.3], "nice": false}, "axis": null},
            "y": {"field": "y", "type": "quantitative", "scale": {"domain": [-8, -3], "nice": false, "zero": false}, "axis": null},
            "color": {"field": "bin", "type": "nominal", "scale": {"domain": ["42.0−43.0", "43.0−44.0", "44.0−45.0", "45.0−46.0"], "range": ["#c48a26", "#2fdc8e", "#e02ce0", "#1818b8"]}, "legend": null},
            "strokeDash": {"field": "model", "type": "nominal", "scale": {"domain": ["Merger", "Secular", "Sum"], "range": [[12, 6, 2, 6], [44, 14], [1, 0]]}}
          }
        },
        {
          "data": {"values": [{}]},
          "mark": {"type": "text", "text": "(b)", "fontSize": 30, "font": "DejaVu Serif", "color": "black"},
          "encoding": {
            "x": {"datum": 1.148, "type": "quantitative", "scale": {"type": "log", "domain": [1, 6.3], "nice": false}, "axis": null},
            "y": {"datum": -3.30, "type": "quantitative", "scale": {"domain": [-8, -3], "nice": false, "zero": false}, "axis": null}
          }
        }
      ]
    }
  ]
}
